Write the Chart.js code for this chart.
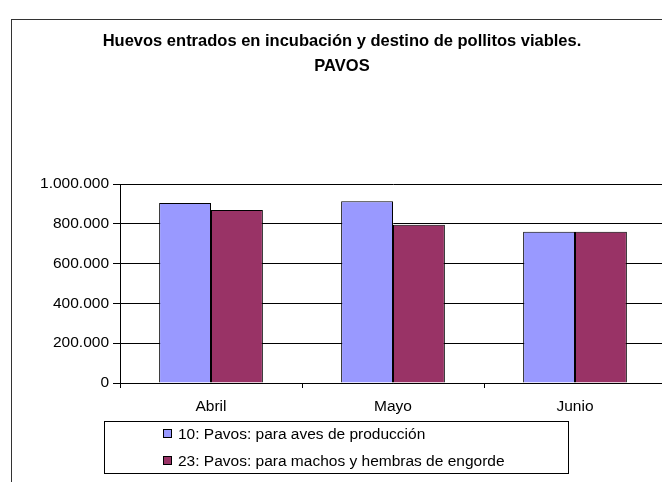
<!DOCTYPE html>
<html>
<head>
<meta charset="utf-8">
<script src="https://cdn.jsdelivr.net/npm/chart.js@4.4.1/dist/chart.umd.min.js"></script>
<style>
  html, body { margin: 0; padding: 0; background: #fff; }
  #wrap { position: relative; width: 662px; height: 482px; overflow: hidden; background: #fff; font-family: "Liberation Sans", Arial, sans-serif; }
  #frame { position: absolute; left: 11px; top: 19px; width: 700px; height: 500px; border-left: 1px solid #333; border-top: 1px solid #333; box-sizing: border-box; }
  #c { position: absolute; left: 0; top: 0; }
  #title { position: absolute; left: 0; top: 28px; width: 684px; text-align: center; font-weight: bold; font-size: 16.5px; line-height: 25px; color: #000; }
  #legend { position: absolute; left: 104px; top: 421px; width: 465px; height: 53px; border: 1px solid #000; box-sizing: border-box; }
  .lrow { position: absolute; left: 73px; font-size: 15.5px; line-height: 20px; color: #000; white-space: nowrap; }
  .lbox { position: absolute; left: 58px; width: 9px; height: 9px; border: 1px solid #000; box-sizing: border-box; }
</style>
</head>
<body>
<div id="wrap">
  <div id="frame"></div>
  <canvas id="c" width="670" height="482"></canvas>
  <div id="title">Huevos entrados en incubación y destino de pollitos viables.<br>PAVOS</div>
  <div id="legend"></div>
</div>
<script>
const categories = ['Abril', 'Mayo', 'Junio'];
const seriesNames = ['10: Pavos: para aves de producción', '23: Pavos: para machos y hembras de engorde'];
const produccion = [904000, 913000, 760000];
const engorde = [869000, 795000, 760000];
const yTickLabels = ['0', '200.000', '400.000', '600.000', '800.000', '1.000.000'];
const seriesColors = ['#9999FF', '#993366'];

const FONT = { family: "'Liberation Sans', Arial, sans-serif", size: 15.5 };

const chart = new Chart(document.getElementById('c'), {
  type: 'bar',
  data: {
    labels: categories,
    datasets: [
      { label: seriesNames[0], data: produccion, backgroundColor: seriesColors[0], borderColor: '#000', borderWidth: 1, categoryPercentage: 0.57, barPercentage: 1.0 },
      { label: seriesNames[1], data: engorde, backgroundColor: seriesColors[1], borderColor: '#000', borderWidth: 1, categoryPercentage: 0.57, barPercentage: 1.0 }
    ]
  },
  options: {
    responsive: false,
    animation: false,
    devicePixelRatio: 1,
    layout: { padding: { left: 0, top: 184, right: 4, bottom: 59 } },
    plugins: { legend: { display: false }, title: { display: false }, tooltip: { enabled: false } },
    scales: {
      x: {
        grid: { display: true, offset: true, drawOnChartArea: false, drawTicks: true, tickLength: 5, tickColor: '#000', color: '#000' },
        border: { display: true, color: '#000', width: 1 },
        ticks: { color: '#000', font: FONT, padding: 9, maxRotation: 0 },
        afterFit: (s) => { s.height = 40; }
      },
      y: {
        min: 0, max: 1000000,
        grid: { color: '#000', lineWidth: 1, drawTicks: true, tickLength: 7, tickColor: '#000' },
        border: { display: true, color: '#000', width: 1 },
        ticks: {
          stepSize: 200000, color: '#000', font: FONT, padding: 4,
          callback: (v, i) => yTickLabels[i]
        },
        afterFit: (s) => { s.width = 120; }
      }
    }
  }
});

// legend built from the chart's datasets
const leg = document.getElementById('legend');
const rowTops = [1.6, 28.6];
const boxTops = [7, 34];
chart.data.datasets.forEach((ds, i) => {
  const b = document.createElement('div');
  b.className = 'lbox';
  b.style.top = boxTops[i] + 'px';
  b.style.background = ds.backgroundColor;
  leg.appendChild(b);
  const t = document.createElement('div');
  t.className = 'lrow';
  t.style.top = rowTops[i] + 'px';
  t.textContent = ds.label;
  leg.appendChild(t);
});
</script>
</body>
</html>
